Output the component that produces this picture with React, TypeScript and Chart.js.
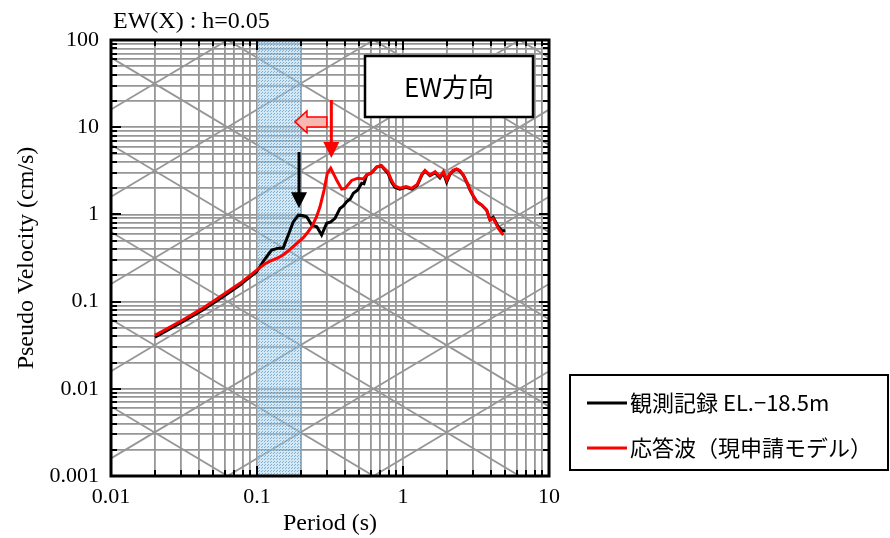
import React, { useEffect, useRef } from "react";
import { Chart, registerables } from "chart.js";

Chart.register(...registerables);

// ---- data ----
const redPeriod = [0.02, 0.031, 0.042, 0.0558, 0.0765, 0.088, 0.0995, 0.1135, 0.125, 0.1365, 0.148, 0.16, 0.175, 0.197, 0.2075, 0.222, 0.237, 0.255, 0.27, 0.288, 0.303, 0.32, 0.335, 0.351, 0.38, 0.401, 0.445, 0.49, 0.535, 0.564, 0.61, 0.66, 0.71, 0.79, 0.84, 0.88, 0.95, 1.05, 1.15, 1.25, 1.35, 1.415, 1.53, 1.66, 1.79, 1.89, 1.99, 2.1, 2.2, 2.33, 2.45, 2.59, 2.75, 2.88, 3.05, 3.2, 3.46, 3.74, 3.94, 4.15, 4.5, 4.86];
const redVelocity = [0.041, 0.0615, 0.083, 0.114, 0.162, 0.195, 0.23, 0.272, 0.295, 0.313, 0.335, 0.37, 0.42, 0.5, 0.54, 0.62, 0.72, 0.93, 1.22, 1.9, 2.96, 3.38, 2.9, 2.48, 1.95, 1.99, 2.45, 2.6, 2.55, 2.85, 3.0, 3.5, 3.65, 3.05, 2.4, 2.12, 2.0, 2.08, 1.99, 2.2, 2.9, 3.2, 2.83, 3.09, 2.7, 3.09, 2.48, 2.96, 3.2, 3.32, 3.2, 2.83, 2.3, 1.91, 1.6, 1.4, 1.28, 1.12, 0.863, 0.9, 0.69, 0.58];

const blackPeriod = [0.02, 0.031, 0.042, 0.0558, 0.0765, 0.088, 0.0995, 0.1135, 0.126, 0.14, 0.151, 0.165, 0.177, 0.192, 0.205, 0.219, 0.237, 0.257, 0.277, 0.3, 0.32, 0.342, 0.37, 0.39, 0.412, 0.435, 0.457, 0.49, 0.521, 0.54, 0.564, 0.61, 0.66, 0.71, 0.79, 0.84, 0.88, 0.95, 1.05, 1.15, 1.25, 1.35, 1.415, 1.53, 1.66, 1.79, 1.89, 1.99, 2.1, 2.2, 2.33, 2.45, 2.59, 2.75, 2.88, 3.05, 3.2, 3.46, 3.74, 3.94, 4.15, 4.5, 4.8, 5.0];
const blackVelocity = [0.039, 0.059, 0.079, 0.108, 0.155, 0.188, 0.22, 0.31, 0.39, 0.41, 0.41, 0.6, 0.82, 0.98, 0.97, 0.94, 0.755, 0.72, 0.58, 0.79, 0.82, 0.9, 1.17, 1.25, 1.4, 1.5, 1.75, 1.9, 2.28, 2.25, 2.83, 3.0, 3.5, 3.62, 2.95, 2.3, 2.05, 1.95, 2.05, 1.95, 2.15, 2.85, 3.15, 2.78, 3.0, 2.62, 3.0, 2.35, 2.9, 3.15, 3.28, 3.15, 2.8, 2.28, 1.9, 1.58, 1.4, 1.28, 1.12, 0.87, 0.93, 0.72, 0.64, 0.66];

const seriesLabels = ["観測記録 EL.−18.5m", "応答波（現申請モデル）"];
const seriesColors = ["#000000", "#ff0000"];

const xMajorValues = [0.01, 0.1, 1, 10];
const xTickLabels = ["0.01", "0.1", "1", "10"];
const yMajorValues = [0.001, 0.01, 0.1, 1, 10, 100];
const yTickLabels = ["0.001", "0.01", "0.1", "1", "10", "100"];
const minorSteps = [1, 2, 3, 4, 5, 6, 7, 8, 9];

// tripartite grid: displacement (cm) and acceleration (cm/s^2) decade lines
const displacementLines = [1e-7, 1e-6, 1e-5, 1e-4, 1e-3, 1e-2, 1e-1, 1, 10, 100, 1000];
const accelerationLines = [1e-2, 1e-1, 1, 10, 100, 1e3, 1e4, 1e5, 1e6, 1e7];

const bandRange = [0.1, 0.2];
const chartTitle = "EW(X) : h=0.05";
const boxLabel = "EW方向";
const xTitle = "Period (s)";
const yTitle = "Pseudo Velocity (cm/s)";

// annotation arrows (data coordinates)
const blackArrow = { period: 0.194, fromV: 5.2, toV: 1.18 };
const redArrow = { period: 0.323, fromV: 20.5, toV: 4.43 };
const shiftArrow = { fromT: 0.301, toT: 0.182, velocity: 11.5 };

// ---- helpers ----
function tickValues(majors: number[]) {
  const out: number[] = [];
  for (let i = 0; i < majors.length - 1; i++) {
    for (const m of minorSteps) out.push(majors[i] * m);
  }
  out.push(majors[majors.length - 1]);
  return out;
}
function isMajor(v: number, majors: number[]) {
  return majors.findIndex((m) => Math.abs(v / m - 1) < 1e-6);
}

const GRID = "#969696";
const SERIF = "'Liberation Serif', 'Times New Roman', serif";
const GOTHIC = "'Noto Sans CJK JP', sans-serif";

function makePattern(ctx: CanvasRenderingContext2D) {
  const c = document.createElement("canvas");
  c.width = 3;
  c.height = 3;
  const p = c.getContext("2d")!;
  p.fillStyle = "rgba(165,210,235,0.5)";
  p.fillRect(0, 0, 3, 3);
  p.fillStyle = "rgba(50,120,180,0.5)";
  p.fillRect(0, 0, 1, 1);
  p.fillRect(1, 2, 1, 1);
  return ctx.createPattern(c, "repeat");
}

const decorPlugin = {
  id: "decor",
  beforeDatasetsDraw(chart: any) {
    const { ctx, chartArea: ca } = chart;
    const x = chart.scales.x;
    const y = chart.scales.y;
    ctx.save();
    ctx.beginPath();
    ctx.rect(ca.left, ca.top, ca.right - ca.left, ca.bottom - ca.top);
    ctx.clip();
    ctx.strokeStyle = GRID;
    ctx.lineWidth = 1.8;
    const t0 = x.min;
    const t1 = x.max;
    for (const d of displacementLines) {
      ctx.beginPath();
      ctx.moveTo(x.getPixelForValue(t0), y.getPixelForValue((2 * Math.PI * d) / t0));
      ctx.lineTo(x.getPixelForValue(t1), y.getPixelForValue((2 * Math.PI * d) / t1));
      ctx.stroke();
    }
    for (const a of accelerationLines) {
      ctx.beginPath();
      ctx.moveTo(x.getPixelForValue(t0), y.getPixelForValue((a * t0) / (2 * Math.PI)));
      ctx.lineTo(x.getPixelForValue(t1), y.getPixelForValue((a * t1) / (2 * Math.PI)));
      ctx.stroke();
    }
    // shaded period band
    const bx0 = x.getPixelForValue(bandRange[0]);
    const bx1 = x.getPixelForValue(bandRange[1]);
    ctx.fillStyle = makePattern(ctx) || "rgba(150,200,228,0.5)";
    ctx.fillRect(bx0, ca.top, bx1 - bx0, ca.bottom - ca.top);
    ctx.restore();
  },
  afterDatasetsDraw(chart: any) {
    const { ctx, chartArea: ca } = chart;
    const x = chart.scales.x;
    const y = chart.scales.y;
    ctx.save();
    // inward tick marks
    ctx.strokeStyle = "#000";
    ctx.lineWidth = 2;
    for (const v of tickValues(xMajorValues)) {
      const px = Math.round(x.getPixelForValue(v));
      const len = isMajor(v, xMajorValues) >= 0 ? 10 : 6;
      ctx.beginPath();
      ctx.moveTo(px, ca.bottom);
      ctx.lineTo(px, ca.bottom - len);
      ctx.moveTo(px, ca.top);
      ctx.lineTo(px, ca.top + len);
      ctx.stroke();
    }
    for (const v of tickValues(yMajorValues)) {
      const py = Math.round(y.getPixelForValue(v));
      const len = isMajor(v, yMajorValues) >= 0 ? 10 : 6;
      ctx.beginPath();
      ctx.moveTo(ca.left, py);
      ctx.lineTo(ca.left + len, py);
      ctx.moveTo(ca.right, py);
      ctx.lineTo(ca.right - len, py);
      ctx.stroke();
    }
    // frame
    ctx.lineWidth = 3;
    ctx.strokeRect(ca.left, ca.top, ca.right - ca.left, ca.bottom - ca.top);

    // vertical arrows
    const drawDownArrow = (t: number, v0: number, v1: number, color: string) => {
      const px = x.getPixelForValue(t);
      const y0 = y.getPixelForValue(v0);
      const y1 = y.getPixelForValue(v1);
      const headLen = 16;
      const headHalf = 8;
      ctx.strokeStyle = color;
      ctx.fillStyle = color;
      ctx.lineWidth = 3;
      ctx.beginPath();
      ctx.moveTo(px, y0);
      ctx.lineTo(px, y1 - headLen + 1);
      ctx.stroke();
      ctx.beginPath();
      ctx.moveTo(px - headHalf, y1 - headLen);
      ctx.lineTo(px + headHalf, y1 - headLen);
      ctx.lineTo(px, y1);
      ctx.closePath();
      ctx.fill();
    };
    drawDownArrow(blackArrow.period, blackArrow.fromV, blackArrow.toV, "#000000");
    drawDownArrow(redArrow.period, redArrow.fromV, redArrow.toV, "#ff0000");

    // outlined left arrow
    {
      const xt = x.getPixelForValue(shiftArrow.toT);
      const xf = x.getPixelForValue(shiftArrow.fromT);
      const yc = y.getPixelForValue(shiftArrow.velocity);
      const headLen = 12;
      const headHalf = 11;
      const bodyHalf = 5;
      ctx.beginPath();
      ctx.moveTo(xt, yc);
      ctx.lineTo(xt + headLen, yc - headHalf);
      ctx.lineTo(xt + headLen, yc - bodyHalf);
      ctx.lineTo(xf, yc - bodyHalf);
      ctx.lineTo(xf, yc + bodyHalf);
      ctx.lineTo(xt + headLen, yc + bodyHalf);
      ctx.lineTo(xt + headLen, yc + headHalf);
      ctx.closePath();
      ctx.fillStyle = "#f6b8b0";
      ctx.fill();
      ctx.strokeStyle = "#ff0000";
      ctx.lineWidth = 1.5;
      ctx.stroke();
    }

    // direction box
    {
      const bx = ca.left + 254;
      const by = ca.top + 16;
      const bw = 168;
      const bh = 61;
      ctx.fillStyle = "#fff";
      ctx.fillRect(bx, by, bw, bh);
      ctx.strokeStyle = "#000";
      ctx.lineWidth = 2.5;
      ctx.strokeRect(bx, by, bw, bh);
      ctx.fillStyle = "#000";
      ctx.font = `26px ${GOTHIC}`;
      ctx.textAlign = "center";
      ctx.textBaseline = "middle";
      ctx.fillText(boxLabel, bx + bw / 2, by + bh / 2 + 1);
    }

    // title
    ctx.fillStyle = "#000";
    ctx.font = `24px ${SERIF}`;
    ctx.textAlign = "left";
    ctx.textBaseline = "middle";
    ctx.fillText(chartTitle, ca.left + 2, 22);

    // legend box
    {
      const lx = ca.left + 459;
      const ly = 375;
      const lw = 318;
      const lh = 95;
      ctx.fillStyle = "#fff";
      ctx.fillRect(lx, ly, lw, lh);
      ctx.strokeStyle = "#000";
      ctx.lineWidth = 2;
      ctx.strokeRect(lx, ly, lw, lh);
      const rows = [ly + 28, ly + 73];
      for (let i = 0; i < seriesLabels.length; i++) {
        ctx.strokeStyle = seriesColors[i];
        ctx.lineWidth = 3;
        ctx.beginPath();
        ctx.moveTo(lx + 17, rows[i]);
        ctx.lineTo(lx + 57, rows[i]);
        ctx.stroke();
        ctx.fillStyle = "#000";
        ctx.font = `22px ${GOTHIC}`;
        ctx.textAlign = "left";
        ctx.textBaseline = "middle";
        ctx.fillText(seriesLabels[i], lx + 60, rows[i]);
      }
    }
    ctx.restore();
  },
};

export default function App() {
  const ref = useRef<HTMLCanvasElement | null>(null);
  useEffect(() => {
    if (!ref.current) return;
    const xTicks = tickValues(xMajorValues);
    const yTicks = tickValues(yMajorValues);
    const chart = new Chart(ref.current, {
      type: "line",
      data: {
        datasets: [
          {
            label: seriesLabels[1],
            data: redPeriod.map((t, i) => ({ x: t, y: redVelocity[i] })),
            borderColor: seriesColors[1],
            borderWidth: 3,
            pointRadius: 0,
            tension: 0,
            order: 0,
          },
          {
            label: seriesLabels[0],
            data: blackPeriod.map((t, i) => ({ x: t, y: blackVelocity[i] })),
            borderColor: seriesColors[0],
            borderWidth: 3,
            pointRadius: 0,
            tension: 0,
            order: 1,
          },
        ],
      },
      options: {
        animation: false,
        responsive: false,
        devicePixelRatio: 1,
        layout: { padding: { left: 0, top: 40, right: 341, bottom: 0 } },
        plugins: {
          legend: { display: false },
          tooltip: { enabled: false },
          title: { display: false },
        },
        scales: {
          x: {
            type: "logarithmic",
            position: "bottom",
            min: xMajorValues[0],
            max: xMajorValues[xMajorValues.length - 1],
            afterBuildTicks: (s: any) => {
              s.ticks = xTicks.map((v) => ({ value: v }));
            },
            afterFit: (s: any) => {
              s.height = 62;
            },
            grid: { color: GRID, lineWidth: 1.8, drawTicks: false },
            border: { display: false },
            ticks: {
              autoSkip: false,
              maxRotation: 0,
              minRotation: 0,
              padding: 8,
              color: "#000",
              font: { family: SERIF, size: 22 },
              callback: (v: any) => {
                const i = isMajor(Number(v), xMajorValues);
                return i >= 0 ? xTickLabels[i] : "";
              },
            },
            title: {
              display: true,
              text: xTitle,
              color: "#000",
              font: { family: SERIF, size: 24 },
              padding: { top: 0, bottom: 0 },
            },
          },
          y: {
            type: "logarithmic",
            position: "left",
            min: yMajorValues[0],
            max: yMajorValues[yMajorValues.length - 1],
            afterBuildTicks: (s: any) => {
              s.ticks = yTicks.map((v) => ({ value: v }));
            },
            afterFit: (s: any) => {
              s.width = 111;
            },
            grid: { color: GRID, lineWidth: 1.8, drawTicks: false },
            border: { display: false },
            ticks: {
              autoSkip: false,
              padding: 12,
              color: "#000",
              font: { family: SERIF, size: 22 },
              callback: (v: any) => {
                const i = isMajor(Number(v), yMajorValues);
                return i >= 0 ? yTickLabels[i] : "";
              },
            },
            title: {
              display: true,
              text: yTitle,
              color: "#000",
              font: { family: SERIF, size: 24 },
              padding: { top: 12, bottom: 0 },
            },
          },
        },
      },
      plugins: [decorPlugin],
    } as any);
    return () => chart.destroy();
  }, []);
  return (
    <div style={{ position: "absolute", left: 0, top: 0, width: 890, height: 538, background: "#fff" }}>
      <canvas ref={ref} width={890} height={538} style={{ display: "block", width: 890, height: 538 }} />
    </div>
  );
}
